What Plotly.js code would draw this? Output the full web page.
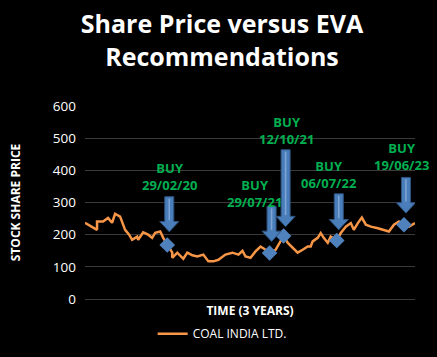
<!DOCTYPE html>
<html>
<head>
<meta charset="utf-8">
<script src="https://cdn.plot.ly/plotly-3.0.1.min.js"></script>
<style>
html,body{margin:0;padding:0;background:#000;}
#chart{width:437px;height:357px;}
</style>
</head>
<body>
<div id="chart"></div>
<script>
// Trading-time index (3 years) and Coal India share price
var timeIndex = [0,6,12,12,18,23,27,30,35,40,44,47,52,53,58,63,67,70,75,78,82,87,87,92,98,102,107,112,118,123,128,133,140,147,153,157,160,165,170,175,180,184,190,195,198,202,207,212,217,222,225,227,232,235,238,242,245,251,255,260,265,268,272,276,280,285,292,297,303,308,313,318,323,329];
var price     = [237,226,215,241,241,252,237,265,256,215,200,184,194,184,207,200,190,206,210,190,168,144,128,144,125,144,136,132,138,117,117,122,138,144,138,150,132,128,148,163,153,143,153,179,196,175,159,144,153,163,163,179,190,205,190,175,194,182,205,225,236,215,236,253,231,225,220,215,210,231,241,231,225,236];

// EVA BUY recommendations
var buyIndex  = [82,184,198,251,318];
var buyPrice  = [168,143,196,182,231];
var buyDates  = ["29/02/20","29/07/21","12/10/21","06/07/22","19/06/23"];

var seriesName = "COAL INDIA LTD.";
var yTickVals = [0,100,200,300,400,500,600];

// arrow geometry (value units above each buy point)
var arrowTipGap = [41,36,29,33,36];
var arrowLen    = [109,109,239,112,111];
var labelShiftX = [2,-15,3,-8,-2];
var labelLift   = [214,186,328,206,211];

var shapes = [];
var annotations = [];
for (var i = 0; i < buyIndex.length; i++) {
  var cx = buyIndex[i] + 2;
  var tipV = buyPrice[i] + arrowTipGap[i];
  var topV = tipV + arrowLen[i];
  var headH = 32, sw = 4.5, hw = 9.5;
  var p = 'M' + (cx - sw) + ',' + topV +
          ' L' + (cx + sw) + ',' + topV +
          ' L' + (cx + sw) + ',' + (tipV + headH) +
          ' L' + (cx + hw) + ',' + (tipV + headH) +
          ' L' + cx + ',' + tipV +
          ' L' + (cx - hw) + ',' + (tipV + headH) +
          ' L' + (cx - sw) + ',' + (tipV + headH) + ' Z';
  shapes.push({type:'path', xref:'x', yref:'y', path:p,
    fillcolor:'#4A7EBB', line:{color:'#2F5380', width:1}, layer:'above'});
  shapes.push({type:'line', xref:'x', yref:'y', x0:cx, x1:cx, y0:topV - 6, y1:tipV + headH + 4,
    line:{color:'#7FA6D6', width:1.5}, layer:'above'});
  annotations.push({xref:'x', yref:'y', x: buyIndex[i] + labelShiftX[i], y: buyPrice[i] + labelLift[i],
    text:'BUY<br>' + buyDates[i], showarrow:false, align:'center',
    font:{family:'Open Sans', size:13, color:'#00B050', weight:'bold'}});
}

var traces = [
  {x: timeIndex, y: price, type:'scatter', mode:'lines', name: seriesName,
   line:{color:'#F79646', width:2.5}},
  {x: buyIndex, y: buyPrice, type:'scatter', mode:'markers', name:'BUY', showlegend:false,
   marker:{symbol:'diamond', size:12, color:'#4F81BD'}}
];

var layout = {
  width:437, height:357,
  paper_bgcolor:'#000', plot_bgcolor:'#000',
  margin:{l:85, r:22, t:106, b:58, autoexpand:false},
  font:{family:'Open Sans', color:'#FFFFFF'},
  title:{text:'Share Price versus EVA<br>Recommendations', x:0.508, xref:'container',
    y:1 - 33/357, yref:'container', yanchor:'middle',
    font:{family:'Open Sans', size:25, color:'#FFFFFF', weight:'bold'}},
  xaxis:{range:[0,329], showticklabels:false, showgrid:false, zeroline:false, showline:false, ticks:'',
    automargin:false,
    title:{text:'TIME (3 YEARS)', standoff:7, font:{family:'Open Sans', size:12, color:'#FFFFFF', weight:'bold'}}},
  yaxis:{range:[0,600], tickvals:yTickVals, showgrid:true, gridcolor:'#3A3A3A', gridwidth:1,
    zeroline:true, zerolinecolor:'#3A3A3A', showline:false, ticks:'', ticklabelstandoff:8,
    automargin:false,
    tickfont:{family:'Open Sans', size:13.5, color:'#FFFFFF'},
    title:{text:'STOCK SHARE PRICE', standoff:29, font:{family:'Open Sans', size:12, color:'#FFFFFF', weight:'bold'}}},
  showlegend:true,
  legend:{orientation:'h', x:0.205, xanchor:'left', y:-0.18, yanchor:'middle',
    font:{family:'Open Sans', size:12, color:'#FFFFFF'}, bgcolor:'rgba(0,0,0,0)'},
  shapes: shapes,
  annotations: annotations
};

Plotly.newPlot('chart', traces, layout, {staticPlot:true, displayModeBar:false});
</script>
</body>
</html>
